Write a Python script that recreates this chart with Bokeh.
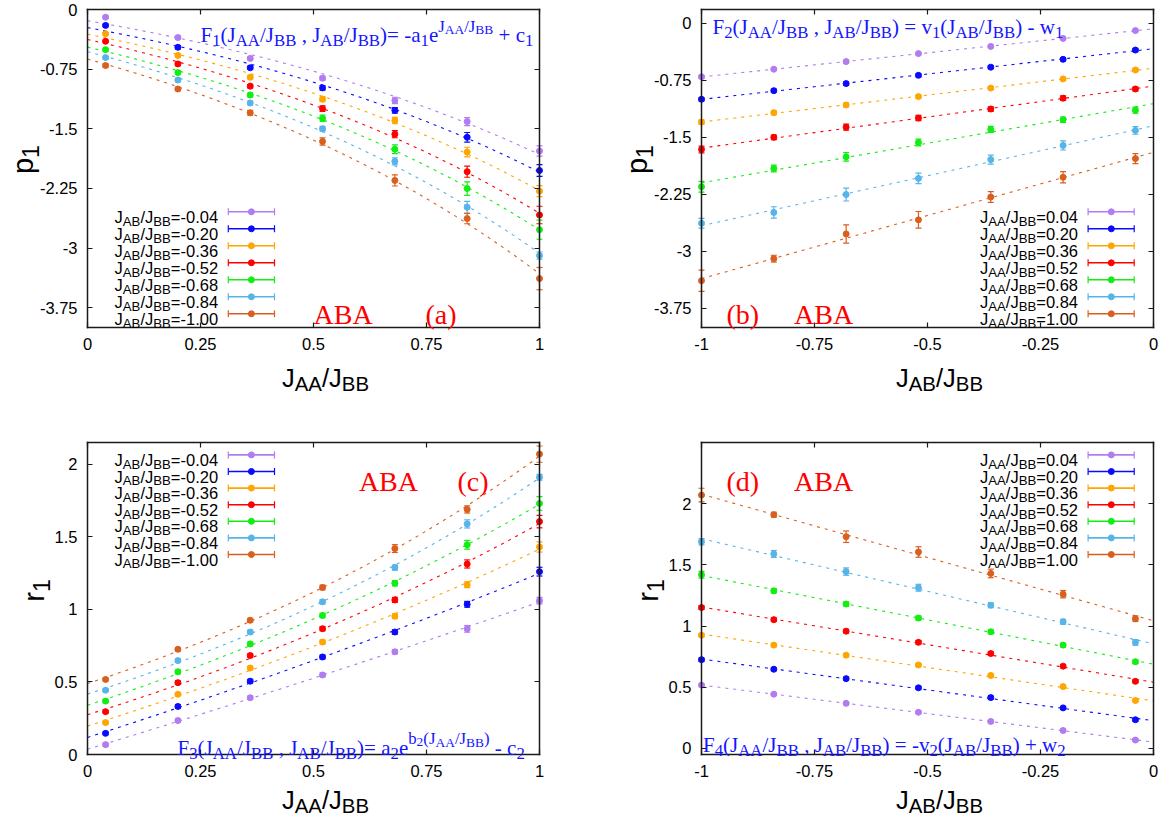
import numpy as np
from bokeh.plotting import figure
from bokeh.layouts import column, row
from bokeh.models import Label, Range1d, FixedTicker, LinearAxis
from bokeh.embed import file_html
from bokeh.resources import INLINE

# ---------------- data ----------------
JAA = [0.04, 0.20, 0.36, 0.52, 0.68, 0.84, 1.00]
JAB = [-1.00, -0.84, -0.68, -0.52, -0.36, -0.20, -0.04]
# p1[i][j] : i -> JAA[i], j -> JAB[j]
p1 = [
    [-0.705, -0.605, -0.505, -0.400, -0.305, -0.200, -0.097],
    [-1.000, -0.887, -0.794, -0.685, -0.578, -0.475, -0.353],
    [-1.300, -1.176, -1.075, -0.965, -0.853, -0.733, -0.615],
    [-1.660, -1.500, -1.367, -1.247, -1.128, -0.986, -0.865],
    [-2.150, -1.910, -1.757, -1.568, -1.397, -1.268, -1.144],
    [-2.630, -2.488, -2.252, -2.040, -1.793, -1.607, -1.410],
    [-3.385, -3.095, -2.770, -2.585, -2.285, -2.025, -1.780],
]
p1_err = [
    [0.020, 0.015, 0.015, 0.015, 0.015, 0.015, 0.015],
    [0.020, 0.020, 0.020, 0.020, 0.020, 0.020, 0.020],
    [0.030, 0.025, 0.025, 0.020, 0.020, 0.020, 0.020],
    [0.045, 0.030, 0.040, 0.035, 0.030, 0.030, 0.025],
    [0.070, 0.045, 0.055, 0.045, 0.040, 0.035, 0.040],
    [0.065, 0.075, 0.085, 0.070, 0.060, 0.060, 0.050],
    [0.140, 0.045, 0.120, 0.110, 0.070, 0.075, 0.065],
]
r1 = [
    [0.517, 0.443, 0.368, 0.295, 0.220, 0.146, 0.068],
    [0.725, 0.647, 0.570, 0.495, 0.415, 0.331, 0.234],
    [0.925, 0.844, 0.762, 0.682, 0.596, 0.505, 0.391],
    [1.151, 1.052, 0.958, 0.867, 0.775, 0.672, 0.548],
    [1.419, 1.288, 1.180, 1.065, 0.953, 0.844, 0.708],
    [1.689, 1.589, 1.445, 1.313, 1.170, 1.035, 0.866],
    [2.070, 1.910, 1.730, 1.605, 1.430, 1.260, 1.060],
]
r1_err = [
    [0.010, 0.010, 0.010, 0.010, 0.010, 0.010, 0.010],
    [0.012, 0.012, 0.012, 0.012, 0.012, 0.012, 0.012],
    [0.014, 0.013, 0.013, 0.012, 0.012, 0.012, 0.012],
    [0.016, 0.015, 0.015, 0.014, 0.014, 0.013, 0.013],
    [0.027, 0.018, 0.018, 0.017, 0.016, 0.015, 0.015],
    [0.025, 0.028, 0.030, 0.028, 0.020, 0.020, 0.023],
    [0.056, 0.020, 0.047, 0.043, 0.035, 0.030, 0.023],
]
COLORS = ["#b07cf0", "#0a0aff", "#ffa500", "#ff0000", "#11ee11", "#56b4e9", "#d95f1e"]

xt_ac = [0, 0.25, 0.5, 0.75, 1]
xl_ac = ["0", "0.25", "0.5", "0.75", "1"]
xt_bd = [-1, -0.75, -0.5, -0.25, 0]
xl_bd = ["-1", "-0.75", "-0.5", "-0.25", "0"]
yt_ab = [0, -0.75, -1.5, -2.25, -3, -3.75]
yl_ab = ["0", "-0.75", "-1.5", "-2.25", "-3", "-3.75"]
yt_cd = [0, 0.5, 1, 1.5, 2]
yl_cd = ["0", "0.5", "1", "1.5", "2"]

# ---------------- text helpers ----------------
SANS = "Liberation Sans"
SERIF = "Liberation Serif"
W_SANS = {' ': 278, '(': 333, ')': 333, '+': 584, ',': 278, '-': 333, '.': 278, '/': 278,
          '=': 584, 'A': 667, 'B': 667, 'J': 500, 'p': 556, 'r': 333}
W_SERIF = {' ': 250, '(': 333, ')': 333, '+': 564, ',': 250, '-': 333, '.': 250, '/': 278,
           '=': 564, 'A': 722, 'B': 667, 'F': 556, 'J': 389, 'a': 444, 'b': 500, 'c': 444,
           'e': 444, 'v': 500, 'w': 722}
for d in "0123456789":
    W_SANS[d] = 556
    W_SERIF[d] = 500
LEVEL = {"n": (1.0, 0.0), "sub": (0.8, -0.27), "sup": (0.8, 0.42), "ss": (0.64, 0.24)}


def tw(t, size, font):
    tbl = W_SANS if font == SANS else W_SERIF
    return sum(tbl.get(ch, 500) for ch in t) / 1000.0 * size


class Panel:
    def __init__(self, fig, xr, yr, fw, fh):
        self.fig, self.xr, self.yr, self.fw, self.fh = fig, xr, yr, fw, fh

    def to_data(self, fx, fy):
        # fx, fy: pixels from the top-left corner of the plot box
        x = self.xr[0] + fx / self.fw * (self.xr[1] - self.xr[0])
        y = self.yr[1] - fy / self.fh * (self.yr[1] - self.yr[0])
        return x, y

    def dy(self, px):
        return px / self.fh * (self.yr[1] - self.yr[0])


def put(P, fx, fy, text, size, font, color, angle=0.0):
    X, Y = P.to_data(fx, fy)
    P.fig.add_layout(Label(x=X, y=Y, text=text, text_font=font,
                           text_font_size="%.2fpx" % size, text_color=color,
                           text_align="left", text_baseline="alphabetic", angle=angle))


def rich(P, fx, fy, segs, size, font, color, align="left"):
    widths = [tw(t, size * LEVEL[l][0], font) for t, l in segs]
    total = sum(widths)
    x = fx - (total if align == "right" else total / 2 if align == "center" else 0)
    for (t, l), w in zip(segs, widths):
        sc, sh = LEVEL[l]
        s = size * sc
        pos = x
        run, run_start = "", pos
        for ch in t + " ":
            if ch == " ":
                if run:
                    put(P, run_start, fy - sh * size, run, s, font, color)
                run = ""
                pos += tw(" ", s, font)
                run_start = pos
            else:
                if not run:
                    run_start = pos
                run += ch
                pos += tw(ch, s, font)
        x += w


def ylabel(P, fx_base, fy_center, segs, size, font):
    widths = [tw(t, size * LEVEL[l][0], font) for t, l in segs]
    total = sum(widths)
    start = fy_center + total / 2
    pos = 0
    for (t, l), w in zip(segs, widths):
        sc, sh = LEVEL[l]
        put(P, fx_base - sh * size, start - pos, t, size * sc, font, "black", angle=np.pi / 2)
        pos += w


def jj(a, b, tail):
    return [("J", "n"), (a, "sub"), ("/J", "n"), (b, "sub"), (tail, "n")]


# ---------------- fits ----------------
def fit_lin(x, y):
    k, b = np.polyfit(x, y, 1)
    return lambda t: k * t + b


def fit_negexp(x, y):
    A = np.vstack([np.exp(x), np.ones_like(x)]).T
    c, *_ = np.linalg.lstsq(A, y, rcond=None)
    return lambda t: c[0] * np.exp(t) + c[1]


def fit_expb(x, y):
    best = None
    for b in np.arange(0.05, 4.0, 0.002):
        A = np.vstack([np.exp(b * x), np.ones_like(x)]).T
        c, *_ = np.linalg.lstsq(A, y, rcond=None)
        r = np.sum((A @ c - y) ** 2)
        if best is None or r < best[0]:
            best = (r, b, c)
    _, b, c = best
    return lambda t: c[0] * np.exp(b * t) + c[1]


# ---------------- figure factory ----------------
FW = 452
EDGE = "#1a1a1a"


def make_axis(fixed, bounds, ticks, labels):
    show = labels is not None
    ax = LinearAxis(fixed_location=fixed, bounds=bounds, ticker=FixedTicker(ticks=ticks),
                    major_label_overrides={float(v): (s if show else "")
                                           for v, s in zip(ticks, labels or ticks)},
                    minor_tick_line_color=None, major_tick_in=5, major_tick_out=0,
                    axis_line_width=1.5, axis_line_color=EDGE, axis_line_cap="square",
                    major_tick_line_color=EDGE, major_tick_line_width=1.2,
                    major_label_text_font=SANS,
                    major_label_text_font_size="16.5px" if show else "0px",
                    major_label_text_color="black",
                    major_label_standoff=(10 if show else 0))
    return ax


def make_panel(xr, yr, fh, left, top, figw, figh, xt, xl, yt, yl):
    x0, x1 = xr
    y0, y1 = yr
    sx = (x1 - x0) / FW
    sy = (y1 - y0) / fh
    full_x = (x0 - left * sx, x1 + (figw - left - FW) * sx)
    full_y = (y0 - (figh - top - fh) * sy, y1 + top * sy)
    p = figure(width=figw, height=figh, x_range=Range1d(*full_x), y_range=Range1d(*full_y),
               x_axis_type=None, y_axis_type=None, min_border=0,
               output_backend="svg", toolbar_location=None, tools="")
    p.xgrid.visible = False
    p.ygrid.visible = False
    p.outline_line_color = None
    p.background_fill_color = "white"
    p.border_fill_color = "white"
    p.add_layout(make_axis(y0, (x0, x1), xt, xl), "below")
    p.add_layout(make_axis(x0, (y0, y1), yt, yl), "left")
    p.add_layout(make_axis(y1, (x0, x1), xt, None), "above")
    p.add_layout(make_axis(x1, (y0, y1), yt, None), "right")
    return Panel(p, xr, yr, FW, fh)


def draw_series(P, xs, ys, es, color, fitfun, trange):
    xs = np.asarray(xs, float)
    ys = np.asarray(ys, float)
    es = np.asarray(es, float)
    f = fitfun(xs, ys)
    t = np.linspace(trange[0], trange[1], 201)
    P.fig.line(t, f(t), line_color=color, line_dash="3 5", line_width=1.1)
    P.fig.segment(x0=xs, y0=ys - es, x1=xs, y1=ys + es, line_color=color, line_width=1.2)
    P.fig.scatter(xs, ys - es, marker="dash", size=6, line_color=color, line_width=1.2)
    P.fig.scatter(xs, ys + es, marker="dash", size=6, line_color=color, line_width=1.2)
    P.fig.scatter(xs, ys, marker="circle", size=6, fill_color=color, line_color=color)


def legend(P, labels, text_right, line_x, mark_x, row0, step):
    for k, (lab, c) in enumerate(zip(labels, COLORS)):
        yc = row0 + k * step
        rich(P, text_right, yc + 5, lab, 16.5, SANS, "black", align="right")
        x0, y0 = P.to_data(line_x[0], yc)
        x1, _ = P.to_data(line_x[1], yc)
        xm, _ = P.to_data(mark_x, yc)
        h = P.dy(3.5)
        P.fig.segment(x0=[x0], y0=[y0], x1=[x1], y1=[y0], line_color=c, line_width=1.6)
        P.fig.segment(x0=[x0, x1], y0=[y0 - h, y0 - h], x1=[x0, x1], y1=[y0 + h, y0 + h],
                      line_color=c, line_width=1.2)
        P.fig.scatter([xm], [y0], marker="circle", size=6, fill_color=c, line_color=c)


RED = "#ff0000"
BLUE = "#1515ff"

# panels: plot-box ranges, box height, box left/top inside the figure, figure size
A = make_panel((0, 1), (-4, 0), 318, 87, 9, 600, 420, xt_ac, xl_ac, yt_ab, yl_ab)
B = make_panel((-1, 0), (-4, 0.18), 318, 101, 9, 571, 420, xt_bd, xl_bd, yt_ab, yl_ab)
C = make_panel((0, 1), (0, 2.15), 312, 87, 22, 600, 408, xt_ac, xl_ac, yt_cd, yl_cd)
D = make_panel((-1, 0), (-0.05, 2.5), 312, 101, 22, 571, 408, xt_bd, xl_bd, yt_cd, yl_cd)

n = len(JAA)
for k in range(n):
    j = n - 1 - k   # JAB index for series k in panels (a) and (c)
    draw_series(A, JAA, [p1[i][j] for i in range(n)], [p1_err[i][j] for i in range(n)],
                COLORS[k], fit_negexp, (0, 1))
    draw_series(B, JAB, p1[k], p1_err[k], COLORS[k], fit_lin, (-1, 0))
    draw_series(C, JAA, [r1[i][j] for i in range(n)], [r1_err[i][j] for i in range(n)],
                COLORS[k], fit_expb, (0, 1))
    draw_series(D, JAB, r1[k], r1_err[k], COLORS[k], fit_lin, (-1, 0))

lab_ac = [jj("AB", "BB", "=%.2f" % JAB[n - 1 - k]) for k in range(n)]
lab_bd = [jj("AA", "BB", "=%.2f" % JAA[k]) for k in range(n)]
legend(A, lab_ac, 130.6, (140.8, 187.0), 163.9, 202.3, 17.0)
legend(B, lab_bd, 376.5, (386.6, 432.7), 409.8, 202.3, 17.0)
legend(C, lab_ac, 130.6, (140.8, 187.0), 163.9, 12.4, 16.6)
legend(D, lab_bd, 376.5, (386.6, 432.7), 409.8, 12.4, 16.6)

# formulas
F1 = [("F", "n"), ("1", "sub"), ("(J", "n"), ("AA", "sub"), ("/J", "n"), ("BB", "sub"),
      (" , J", "n"), ("AB", "sub"), ("/J", "n"), ("BB", "sub"), (")= -a", "n"), ("1", "sub"),
      ("e", "n"), ("J", "sup"), ("AA", "ss"), ("/J", "sup"), ("BB", "ss"), (" + c", "n"),
      ("1", "sub")]
F2 = [("F", "n"), ("2", "sub"), ("(J", "n"), ("AA", "sub"), ("/J", "n"), ("BB", "sub"),
      (" , J", "n"), ("AB", "sub"), ("/J", "n"), ("BB", "sub"), (") = v", "n"), ("1", "sub"),
      ("(J", "n"), ("AB", "sub"), ("/J", "n"), ("BB", "sub"), (") - w", "n"), ("1", "sub")]
F3 = [("F", "n"), ("3", "sub"), ("(J", "n"), ("AA", "sub"), ("/J", "n"), ("BB", "sub"),
      (" , J", "n"), ("AB", "sub"), ("/J", "n"), ("BB", "sub"), (")= a", "n"), ("2", "sub"),
      ("e", "n"), ("b", "sup"), ("2", "ss"), ("(J", "sup"), ("AA", "ss"), ("/J", "sup"),
      ("BB", "ss"), (")", "sup"), (" - c", "n"), ("2", "sub")]
F4 = [("F", "n"), ("4", "sub"), ("(J", "n"), ("AA", "sub"), ("/J", "n"), ("BB", "sub"),
      (" , J", "n"), ("AB", "sub"), ("/J", "n"), ("BB", "sub"), (") = -v", "n"), ("2", "sub"),
      ("(J", "n"), ("AB", "sub"), ("/J", "n"), ("BB", "sub"), (") + w", "n"), ("2", "sub")]
rich(A, 113, 25.5, F1, 21, SERIF, BLUE)
rich(B, 11, 17, F2, 21, SERIF, BLUE)
rich(C, 90, 305, F3, 21, SERIF, BLUE)
rich(D, 1.5, 302.5, F4, 21, SERIF, BLUE)

# red tags
put(A, 226, 305, "ABA", 28, SERIF, RED)
put(A, 338, 305, "(a)", 28, SERIF, RED)
put(B, 25, 305, "(b)", 28, SERIF, RED)
put(B, 92.5, 305, "ABA", 28, SERIF, RED)
put(C, 271.4, 39, "ABA", 28, SERIF, RED)
put(C, 370, 39, "(c)", 28, SERIF, RED)
put(D, 25, 39, "(d)", 28, SERIF, RED)
put(D, 92.5, 39, "ABA", 28, SERIF, RED)

# axis titles
XA = [("J", "n"), ("AA", "sub"), ("/J", "n"), ("BB", "sub")]
XB = [("J", "n"), ("AB", "sub"), ("/J", "n"), ("BB", "sub")]
rich(A, FW / 2 + 12, 318 + 50, XA, 25.5, SANS, "black", align="center")
rich(B, FW / 2 + 12, 318 + 50, XB, 25.5, SANS, "black", align="center")
rich(C, FW / 2 + 12, 312 + 45, XA, 25.5, SANS, "black", align="center")
rich(D, FW / 2 + 12, 312 + 45, XB, 25.5, SANS, "black", align="center")
ylabel(A, -65, 150, [("p", "n"), ("1", "sub")], 29, SANS)
ylabel(B, -65, 150, [("p", "n"), ("1", "sub")], 29, SANS)
ylabel(C, -54, 148, [("r", "n"), ("1", "sub")], 29, SANS)
ylabel(D, -54, 148, [("r", "n"), ("1", "sub")], 29, SANS)

layout = column(row(A.fig, B.fig), row(C.fig, D.fig))
open("out.html", "w").write(file_html(layout, INLINE))
